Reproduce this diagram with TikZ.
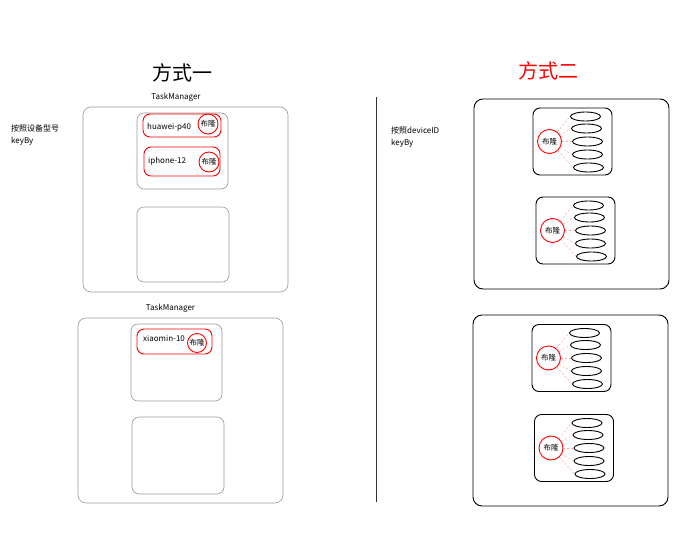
\documentclass[tikz,border=0pt]{standalone}
\usepackage{fontspec}
\setmainfont{Noto Sans CJK SC}
\usetikzlibrary{shapes.geometric}
% one device group: box, bloom filter and its slots
\newcommand{\bloomset}[3]{%
  \begin{scope}[shift={(#2,#3)}]
    \node[grp] (#1) at (0,0) {};
    \node[bloom=24pt] (#1-b) at (-23,0) {布隆};
    \node[slot] (#1-1) at (13,-25) {};
    \node[slot] (#1-2) at (14,-13) {};
    \node[slot] (#1-3) at (15,0) {};
    \node[slot] (#1-4) at (15,13) {};
    \node[slot] (#1-5) at (16,26) {};
    \draw[link] (#1-b) -- (#1-1.west);
    \draw[link] (#1-b) -- (#1-2.west);
    \draw[link] (#1-b) -- (#1-3.west);
    \draw[link] (#1-b) -- (#1-4.west);
    \draw[link] (#1-b) -- (#1-5.west);
  \end{scope}}

\begin{document}
\begin{tikzpicture}[
  x=1pt, y=-1pt,
  title/.style={font=\fontsize{20}{24}\selectfont},
  small/.style={font=\fontsize{8}{12}\selectfont, inner sep=0pt},
  tm/.style={draw=gray!80, line width=0.6pt, rounded corners=8pt},
  slotbox/.style={draw=gray!80, line width=0.6pt, rounded corners=7pt},
  dev/.style={draw=red, line width=0.9pt, rounded corners=7pt},
  bloom/.style={draw=red, line width=0.9pt, circle, minimum size=#1, inner sep=0pt,
    font=\fontsize{7.5}{8}\selectfont},
  big/.style={draw=black, line width=0.9pt, rounded corners=9pt},
  grp/.style={draw=black, line width=0.9pt, rounded corners=7pt,
    minimum width=79pt, minimum height=67pt},
  slot/.style={draw=black, line width=0.9pt, ellipse, inner sep=0pt,
    minimum width=30pt, minimum height=9pt},
  link/.style={red!35, line width=0.5pt, dash pattern=on 2pt off 2pt}
]
  \useasboundingbox (0,0) rectangle (691,533);

  % Titles
  \node[title] (t1) at (182,73) {方式一};
  \node[title, text=red] (t2) at (548,71) {方式二};

  % Way one: by device model
  \node[small, anchor=west, align=left] (k1) at (11,135) {按照设备型号\\keyBy};

  \node[small] (tm1lbl) at (176,97) {TaskManager};
  \node[tm, minimum width=205pt, minimum height=185pt] (tm1) at (185.5,199.5) {};
  \node[slotbox, minimum width=91pt, minimum height=76pt] (s1) at (182.5,151) {};
  \node[slotbox, minimum width=92pt, minimum height=75pt] (s2) at (183,244.5) {};

  \node[dev, minimum width=78pt, minimum height=23pt] (hw) at (182,125.5) {};
  \node[small, anchor=west] (hwlbl) at (147,127) {huawei-p40};
  \node[bloom=20pt] (hwb) at (208,124) {布隆};

  \node[dev, minimum width=76pt, minimum height=29pt] (ip) at (182,161.5) {};
  \node[small, anchor=west] (iplbl) at (148,161) {iphone-12};
  \node[bloom=20pt] (ipb) at (209,162) {布隆};

  \node[small] (tm2lbl) at (170.5,308) {TaskManager};
  \node[tm, minimum width=205pt, minimum height=185pt] (tm2) at (180.5,410.5) {};
  \node[slotbox, minimum width=91pt, minimum height=77pt] (s3) at (176.5,362.5) {};
  \node[slotbox, minimum width=92pt, minimum height=77pt] (s4) at (178,455.5) {};

  \node[dev, minimum width=75pt, minimum height=25pt] (xm) at (174.5,341.5) {};
  \node[small, anchor=west] (xmlbl) at (143,338) {xiaomin-10};
  \node[bloom=19pt] (xmb) at (197,343) {布隆};

  % Divider
  \coordinate (divtop) at (376,97);
  \coordinate (divbot) at (376,502);
  \draw[black!80, line width=0.9pt] (divtop) -- (divbot);

  % Way two: by deviceID
  \node[small, anchor=west, align=left] (k2) at (391,137) {按照deviceID\\keyBy};

  \node[big, minimum width=195pt, minimum height=190pt] (tm3) at (571.5,194) {};
  \bloomset{g1}{572.5}{141.5}
  \bloomset{g2}{575.5}{230.5}

  \node[big, minimum width=195pt, minimum height=191pt] (tm4) at (570.5,410.5) {};
  \bloomset{g3}{571.5}{358}
  \bloomset{g4}{574}{448}
\end{tikzpicture}
\end{document}
